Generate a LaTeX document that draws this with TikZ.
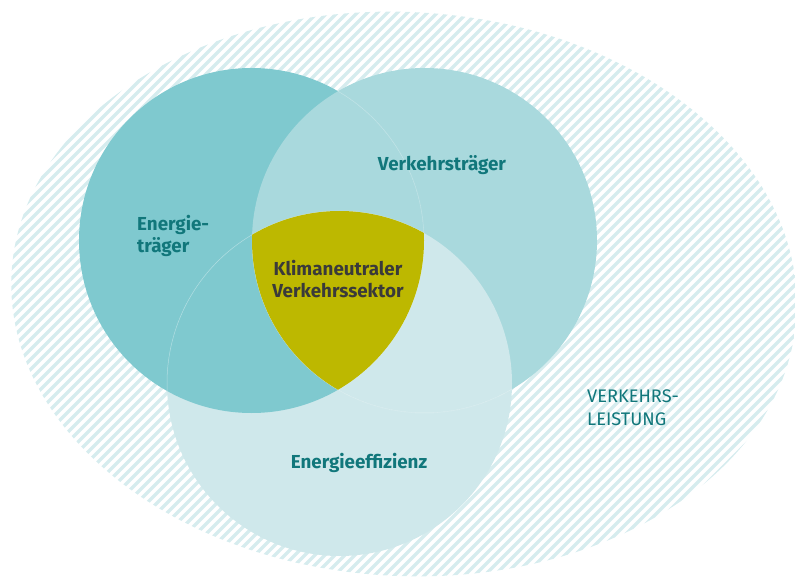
\documentclass[tikz,border=0pt]{standalone}
\usepackage{fontspec}
\setmainfont{Fira Sans}
\definecolor{hatchc}{HTML}{D6ECEE}
\definecolor{leftc}{HTML}{7FC9CF}
\definecolor{rightc}{HTML}{A9D9DD}
\definecolor{botc}{HTML}{CFE8EB}
\definecolor{olive}{HTML}{BDB800}
\definecolor{tealtext}{HTML}{11777B}
\definecolor{darktext}{HTML}{3A3A3A}
\tikzset{
  lbl/.style={font=\bfseries\fontsize{18.8}{22}\selectfont, text=tealtext, inner sep=0pt},
  ghost/.style={draw=white, draw opacity=0.4, line width=0.5pt},
}
\begin{document}
\begin{tikzpicture}[x=1pt,y=-1pt]
\useasboundingbox (0,0) rectangle (795,577);
% hatched ellipse
\begin{scope}
  \clip[rotate around={-3:(404,294)}] (404,294) ellipse [x radius=393, y radius=282];
  \foreach \i in {-70,...,140} {
    \draw[hatchc, line width=3.5pt] (\i*10-600,600) -- (\i*10,0);
  }
\end{scope}
% circles
\coordinate (L) at (251.5,240.5);
\coordinate (R) at (424.5,240.5);
\coordinate (B) at (339.5,383.5);
\def\rad{172.5}
\fill[botc] (B) circle (\rad);
\fill[rightc] (R) circle (\rad);
\fill[leftc] (L) circle (\rad);
\begin{scope}
  \clip (R) circle (\rad);
  \fill[rightc] (L) circle (\rad);
\end{scope}
\begin{scope}
  \clip (B) circle (\rad);
  \fill[botc] (R) circle (\rad);
\end{scope}
% faint hidden edges
\begin{scope}
  \clip (R) circle (\rad);
  \draw[ghost] (L) circle (\rad);
\end{scope}
\begin{scope}
  \clip (L) circle (\rad);
  \draw[ghost] (B) circle (\rad);
\end{scope}
\begin{scope}
  \clip (B) circle (\rad);
  \draw[ghost] (R) circle (\rad);
\end{scope}
% center
\begin{scope}
  \clip (L) circle (\rad);
  \clip (R) circle (\rad);
  \fill[olive] (B) circle (\rad);
\end{scope}
% labels
\node[lbl, anchor=west, align=left] (et) at (137,236) {Energie-\\träger};
\node[lbl] (vt) at (442,165) {Verkehrsträger};
\node[lbl, text=darktext, align=center] (kv) at (338,279) {Klimaneutraler\\Verkehrssektor};
\node[lbl] (ee) at (359,463) {Energieeffizienz};
\node[font=\fontsize{18.2}{23}\selectfont, text=tealtext, inner sep=0pt, anchor=west, align=left] (vl) at (587,408) {VERKEHRS-\\LEISTUNG};
\end{tikzpicture}
\end{document}
